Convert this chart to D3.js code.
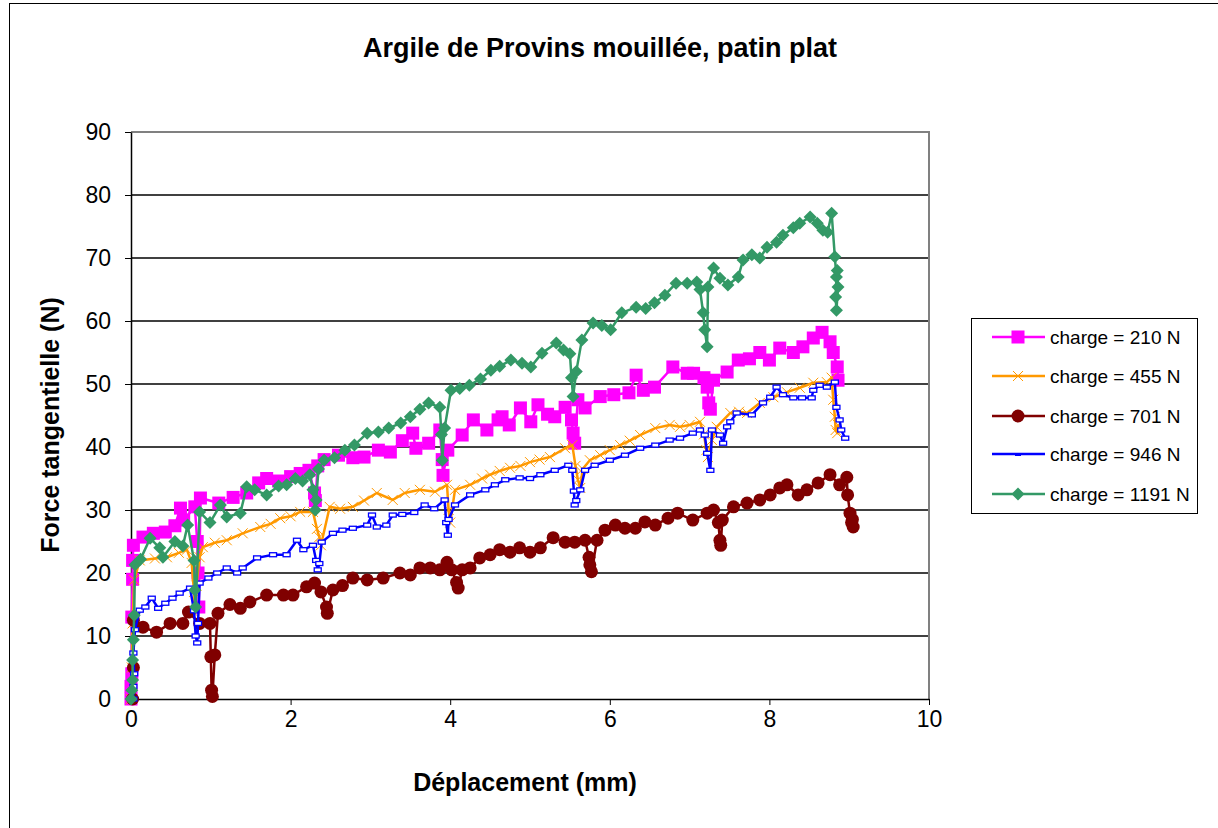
<!DOCTYPE html>
<html><head><meta charset="utf-8">
<script src="https://cdn.jsdelivr.net/npm/d3@7"></script>
<style>body{margin:0;background:#fff}svg{display:block}text{font-family:"Liberation Sans",Arial,sans-serif;fill:#000}</style>
</head><body><svg id="c" width="1218" height="828"></svg>
<script>
const title = "Argile de Provins mouillée, patin plat";
const xTitle = "Déplacement (mm)";
const yTitle = "Force tangentielle (N)";
const xTicks = [0,2,4,6,8,10];
const yTicks = [0,10,20,30,40,50,60,70,80,90];
const seriesNames = ["charge = 210 N","charge = 455 N","charge = 701 N","charge = 946 N","charge = 1191 N"];

const dep210 = [0,0,0.01,0.01,0.02,0.02,0.03,0.15,0.28,0.43,0.55,0.62,0.66,0.8,0.83,0.84,0.85,0.87,1.1,1.28,1.45,1.6,1.7,1.85,2.0,2.12,2.23,2.3,2.31,2.34,2.42,2.6,2.78,2.92,3.1,3.25,3.4,3.53,3.57,3.73,3.87,3.9,3.91,3.97,4.15,4.29,4.46,4.6,4.65,4.74,4.88,5.01,5.1,5.22,5.31,5.44,5.52,5.54,5.56,5.6,5.69,5.88,6.05,6.24,6.33,6.42,6.56,6.79,6.97,7.05,7.18,7.22,7.24,7.26,7.3,7.47,7.61,7.75,7.88,8.0,8.13,8.3,8.42,8.55,8.66,8.76,8.8,8.85,8.86];
const force210 = [0,2,4,13,19,22,24.4,25.7,26.3,26.5,27.5,30.3,28.4,30.5,25,20,14.6,31.9,31.1,32,32.7,34.3,35,34.6,35.3,35.8,36.3,32.7,31.5,37,38,38.7,38.3,38.4,39.5,39.2,41,42.2,39.8,40.6,42.7,38,35.5,39.5,41.9,44.3,42.7,44.3,44.8,43.5,46.2,44,46.7,45.2,44.8,46.3,44.3,42.2,40.6,47.5,46.2,48,48.3,48.6,51.4,49,49.5,52.7,51.7,51.7,51,49.5,47,46,50.6,51.9,53.8,54,55,53.8,55.7,55,55.9,57.3,58.2,56.7,55,52.7,50.6];

const dep455 = [0,0.01,0.02,0.04,0.11,0.3,0.45,0.6,0.7,0.76,0.79,0.8,0.82,0.86,0.9,1.05,1.2,1.4,1.62,1.75,1.87,2.0,2.12,2.28,2.33,2.36,2.38,2.49,2.62,2.78,2.92,3.08,3.28,3.43,3.62,3.81,3.96,3.98,4.0,4.06,4.25,4.4,4.5,4.62,4.75,4.88,5.0,5.12,5.25,5.44,5.53,5.57,5.6,5.63,5.66,5.75,5.88,6.0,6.13,6.25,6.38,6.57,6.75,6.88,7.0,7.13,7.18,7.21,7.23,7.28,7.34,7.51,7.62,7.72,7.88,8.05,8.22,8.38,8.55,8.72,8.78,8.8,8.82,8.83,8.85,8.86];
const force455 = [0,5,12,18.9,22,22.3,22.5,23.2,23.7,21.6,17,13.6,18,22.5,24.1,24.8,25.2,26.3,27.3,27.8,28.7,29,29.7,29.7,27,25.7,24.4,30.5,30.2,30.5,31.5,32.7,31.6,32.7,33.2,32.9,34,30,28,33.2,34,35,35.6,36.2,36.7,37,37.6,38,38.4,39.8,40.3,37,34.8,33.5,36.5,37.9,38.7,39.5,40.3,41,41.9,43,43.5,43.2,43.5,44,42,39.5,38.4,41.1,43.2,45.4,45.6,45.4,47,47.9,48.7,49.4,50.2,50.3,51,47.5,44.8,42.7,42.2,43.5];

const dep701 = [0.02,0.03,0.03,0.15,0.32,0.49,0.65,0.72,0.86,0.99,1.0,1.01,1.02,1.05,1.09,1.24,1.37,1.49,1.7,1.91,2.03,2.2,2.3,2.38,2.45,2.46,2.53,2.65,2.78,2.96,3.16,3.37,3.5,3.62,3.75,3.87,3.96,4.02,4.08,4.1,4.15,4.25,4.37,4.5,4.62,4.75,4.87,5.0,5.13,5.29,5.44,5.56,5.69,5.74,5.75,5.77,5.84,5.94,6.07,6.19,6.32,6.44,6.57,6.73,6.85,7.04,7.22,7.3,7.36,7.38,7.39,7.41,7.55,7.72,7.88,8.01,8.13,8.22,8.36,8.47,8.61,8.76,8.88,8.97,8.98,9.01,9.03,9.05,9.04];
const force701 = [0,5,12.5,11.4,10.6,12,12,13.8,12,12,6.7,1.4,0.4,7,13.6,15,14.4,15.4,16.5,16.5,16.5,17.8,18.4,17,14.6,13.6,17.3,18,19.2,18.9,19.2,20,19.7,20.8,20.8,20.5,21.7,20.5,18.5,17.6,20.5,20.8,22.4,22.9,23.7,23.3,24,23.3,24,25.6,24.9,24.9,25.2,22.5,21.3,20.2,25.2,26.8,27.6,27.1,27.1,28.1,27.6,28.7,29.5,28.4,29.5,30,28,25.2,24.4,28.4,30.5,31.1,31.6,32.4,33.5,34,32.4,33.2,34.3,35.6,34,35.2,32.4,29.5,28,27.3,28.5];

const dep946 = [0.03,0.03,0.04,0.03,0.05,0.11,0.18,0.26,0.34,0.43,0.52,0.61,0.74,0.79,0.81,0.83,0.84,0.86,0.97,1.08,1.2,1.33,1.4,1.58,1.78,1.95,2.08,2.16,2.28,2.32,2.34,2.36,2.39,2.53,2.65,2.78,2.96,3.02,3.08,3.2,3.28,3.4,3.55,3.68,3.8,3.93,3.95,3.97,3.98,4.06,4.25,4.44,4.56,4.69,4.87,5.0,5.13,5.31,5.48,5.53,5.55,5.56,5.58,5.63,5.69,5.81,6.0,6.19,6.38,6.57,6.75,6.88,7.04,7.13,7.19,7.22,7.26,7.28,7.38,7.42,7.47,7.51,7.59,7.78,7.92,8.01,8.09,8.17,8.3,8.41,8.53,8.55,8.63,8.72,8.82,8.84,8.88,8.9,8.95];
const force946 = [0,2,4,7.3,11,14.1,14.6,16,14.4,15.2,16,16.8,17.6,14,10,8.9,12,18.4,19.2,20,20.8,20,20.8,22.4,22.9,22.9,25.2,23.7,24.4,22,20.5,21.5,24.9,26.3,26.8,27.1,27.6,29.2,27.3,27.6,29.2,29.3,29.6,30.8,30.2,31.6,28,26,28.5,30.8,32.4,33.2,34,34.8,35.1,35,35.6,36.3,37.1,36.3,33,30.8,31.5,33.2,36.3,37.1,37.9,38.7,39.8,40.3,41.1,41.4,42.2,42.7,41.9,39,36.3,42.7,41.9,40.6,43.2,44,45.4,45.1,47,47.9,49.5,48.3,47.8,47.8,47.8,49,49.8,49.5,50.3,46.3,44.3,42.7,41.4];

const dep1191 = [0,0.01,0.02,0.02,0.03,0.04,0.05,0.12,0.24,0.36,0.4,0.55,0.65,0.71,0.79,0.8,0.81,0.86,0.99,1.12,1.2,1.37,1.45,1.55,1.7,1.85,1.95,2.06,2.15,2.24,2.28,2.31,2.32,2.35,2.42,2.55,2.68,2.8,2.96,3.1,3.23,3.38,3.5,3.62,3.73,3.87,3.89,3.9,3.93,4.01,4.12,4.24,4.38,4.51,4.62,4.76,4.9,5.01,5.15,5.33,5.42,5.5,5.52,5.54,5.58,5.65,5.79,5.9,6.01,6.15,6.33,6.45,6.56,6.69,6.83,6.97,7.09,7.13,7.17,7.19,7.22,7.23,7.3,7.38,7.48,7.61,7.67,7.78,7.88,7.97,8.09,8.17,8.3,8.38,8.51,8.6,8.67,8.73,8.78,8.82,8.84,8.83,8.84,8.86,8.85];
const force1191 = [0,1.4,3,6.2,9.4,13.3,21.3,22.2,25.5,24,22.5,25,24.3,27.6,22,17.3,14.6,29.7,28,30.8,28.9,29.5,33.7,33.2,32.4,33.8,34,35,34.6,35.6,33.2,30,31.6,36.5,37.9,38.3,39.5,40.3,42.2,42.4,43,43.8,44.8,46,47,46.3,42,37.9,43,49,49.3,49.8,50.8,52.2,52.8,53.8,53.3,52.7,54.9,56.5,55.4,54.8,51,48,52,57,59.7,59.3,58.6,61.3,62.2,62,62.9,64.1,66,66,66.2,65,61.3,58.6,55.9,65.4,68.4,66.8,65.7,67,69.7,70.5,70,71.7,72.5,73.6,74.8,75.5,76.5,75.5,74.4,74.1,77.1,70.2,67,63.8,61.7,65.4,68];

const colors = ["#FF00FF","#FF9900","#800000","#0000FF","#339966"];
const series = [
  {xs:dep210, ys:force210},
  {xs:dep455, ys:force455},
  {xs:dep701, ys:force701},
  {xs:dep946, ys:force946},
  {xs:dep1191, ys:force1191}
].map((s,i)=>({name:seriesNames[i], color:colors[i], pts:s.xs.map((x,j)=>[x,s.ys[j]])}));

const svg = d3.select("#c");
const L=131,R=929,T=132,B=699;
const x = d3.scaleLinear().domain([0,10]).range([L,R]);
const y = d3.scaleLinear().domain([0,90]).range([B,T]);

// outer chart border
svg.append("rect").attr("x",9.5).attr("y",3.5).attr("width",1300).attr("height",1000).attr("fill","none").attr("stroke","#000").attr("stroke-width",1);

// title
svg.append("text").attr("x",600).attr("y",57).attr("text-anchor","middle").attr("font-size",27).attr("font-weight","bold").text(title);

// gridlines
svg.append("g").selectAll("line").data(yTicks.filter(v=>v>0&&v<90)).join("line")
  .attr("x1",L).attr("x2",R).attr("y1",d=>y(d)).attr("y2",d=>y(d)).attr("stroke","#000").attr("stroke-width",1.5);
// plot border top/right gray
svg.append("path").attr("d",`M${L},${T}H${R}V${B}`).attr("fill","none").attr("stroke","#808080").attr("stroke-width",2);

// axes
const ya = svg.append("g").attr("transform",`translate(${L},0)`).call(d3.axisLeft(y).tickValues(yTicks).tickSize(6).tickPadding(14).tickSizeOuter(0));
const xa = svg.append("g").attr("transform",`translate(0,${B})`).call(d3.axisBottom(x).tickValues(xTicks).tickSize(6).tickPadding(6).tickSizeOuter(0));
[ya,xa].forEach(a=>{a.selectAll("path.domain").attr("stroke","#000").attr("stroke-width",1.5);a.selectAll(".tick line").attr("stroke","#000");a.selectAll("text").attr("font-size",23).attr("font-family","'Liberation Sans',Arial,sans-serif").attr("fill","#000");});

// axis titles
svg.append("text").attr("x",525).attr("y",791).attr("text-anchor","middle").attr("font-size",25).attr("font-weight","bold").text(xTitle);
svg.append("text").attr("transform","translate(59,425) rotate(-90)").attr("text-anchor","middle").attr("font-size",25).attr("font-weight","bold").text(yTitle);

// markers
function marker(g,i,cx,cy){
  const c=colors[i];
  if(i===0){g.append("rect").attr("x",cx-6.5).attr("y",cy-6.5).attr("width",13).attr("height",13).attr("fill",c);}
  else if(i===1){g.append("path").attr("d",`M${cx-5},${cy-5}L${cx+5},${cy+5}M${cx-5},${cy+5}L${cx+5},${cy-5}`).attr("stroke",c).attr("stroke-width",1).attr("fill","none");}
  else if(i===2){g.append("circle").attr("cx",cx).attr("cy",cy).attr("r",6.5).attr("fill",c);}
  else if(i===3){g.append("rect").attr("x",cx-3.5).attr("y",cy-2).attr("width",7).attr("height",4).attr("fill","#fff").attr("stroke",c).attr("stroke-width",1.3);}
  else {g.append("path").attr("d",`M${cx},${cy-6.5}L${cx+6.5},${cy}L${cx},${cy+6.5}L${cx-6.5},${cy}Z`).attr("fill",c);}
}

const line = d3.line().x(d=>x(d[0])).y(d=>y(d[1]));
series.forEach((s,i)=>{
  const g = svg.append("g");
  g.append("path").attr("d",line(s.pts)).attr("fill","none").attr("stroke",s.color).attr("stroke-width",i===1?2.5:2.5).attr("stroke-linejoin","round");
  s.pts.forEach(p=>marker(g,i,x(p[0]),y(p[1])));
});

// legend
const lg = svg.append("g");
lg.append("rect").attr("x",971.5).attr("y",318.5).attr("width",226).attr("height",195).attr("fill","#fff").attr("stroke","#000");
const ly = [337,376,416,454,494];
series.forEach((s,i)=>{
  lg.append("line").attr("x1",992).attr("x2",1045).attr("y1",ly[i]).attr("y2",ly[i]).attr("stroke",s.color).attr("stroke-width",2.5);
  if(i===3){lg.append("rect").attr("x",1015).attr("y",ly[i]-1).attr("width",6).attr("height",3).attr("fill",s.color);}
  else marker(lg,i,1018,ly[i]);
  lg.append("text").attr("x",1050).attr("y",ly[i]+7).attr("font-size",19).text(s.name);
});
</script></body></html>
